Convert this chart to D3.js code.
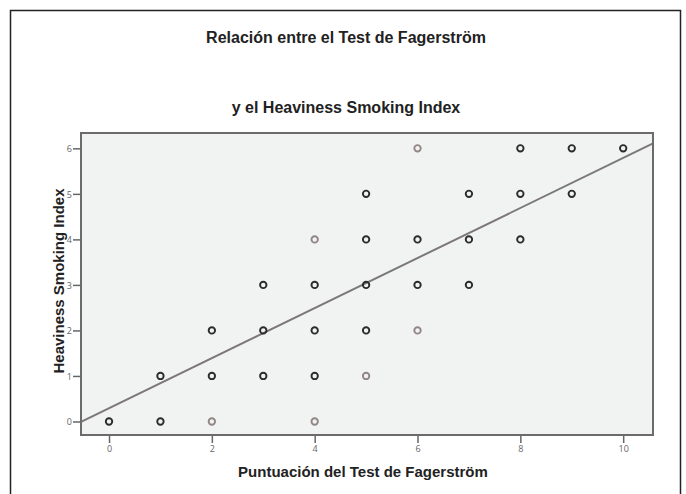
<!DOCTYPE html>
<html>
<head>
<meta charset="utf-8">
<script src="https://cdn.jsdelivr.net/npm/d3@7"></script>
<style>
    body { margin: 0; background: #fff; }
    text { font-family: "Liberation Sans", Arial, sans-serif; }
</style>
</head>
<body>
<svg id="chart" width="686" height="494"></svg>
<script>
// data
const titleLines = ["Relación entre el Test de Fagerström", "y el Heaviness Smoking Index"];
const xLabel = "Puntuación del Test de Fagerström";
const yLabel = "Heaviness Smoking Index";
const xTicks = [0, 2, 4, 6, 8, 10];
const yTicks = [0, 1, 2, 3, 4, 5, 6];
const pointX = [0, 1, 1, 2, 2, 2, 3, 3, 3, 4, 4, 4, 4, 4, 5, 5, 5, 5, 5, 6, 6, 6, 6, 7, 7, 7, 8, 8, 8, 9, 9, 10];
const pointY = [0, 0, 1, 0, 1, 2, 1, 2, 3, 0, 1, 2, 3, 4, 1, 2, 3, 4, 5, 2, 3, 4, 6, 3, 4, 5, 4, 5, 6, 5, 6, 6];
// 1 = dark (many cases), 0 = light (few cases)
const pointTone = [1, 1, 1, 0, 1, 1, 1, 1, 1, 0, 1, 1, 1, 0, 0, 1, 1, 1, 1, 0, 1, 1, 0, 1, 1, 1, 1, 1, 1, 1, 1, 1];
const fitIntercept = 0.29;
const fitSlope = 0.55;

const svg = d3.select("#chart");
const plot = { left: 81, right: 653, top: 133, bottom: 435 };

// outer frame
svg.append("rect")
    .attr("x", 10.5).attr("y", 10.5)
    .attr("width", 670).attr("height", 500)
    .attr("fill", "none")
    .attr("stroke", "#222")
    .attr("stroke-width", 1.5);

svg.selectAll(".title").data(titleLines).enter()
    .append("text")
    .attr("class", "title")
    .attr("x", 346)
    .attr("y", function(d, i) { return i == 0 ? 43 : 113; })
    .attr("text-anchor", "middle")
    .style("font-size", "16px")
    .style("font-weight", "bold")
    .attr("fill", "#222")
    .text(function(d) { return d; });

const x = d3.scaleLinear().domain([-0.545, 10.58]).range([plot.left, plot.right]);
const y = d3.scaleLinear().domain([-0.297, 6.337]).range([plot.bottom, plot.top]);

svg.append("rect")
    .attr("x", plot.left).attr("y", plot.top)
    .attr("width", plot.right - plot.left).attr("height", plot.bottom - plot.top)
    .attr("fill", "#f1f2f2");

// axes
const xAxis = d3.axisBottom(x).tickValues(xTicks).tickFormat(d3.format("d")).tickSize(8).tickSizeOuter(0);
const yAxis = d3.axisLeft(y).tickValues(yTicks).tickFormat(d3.format("d")).tickSize(8).tickSizeOuter(0);

const gx = svg.append("g")
    .attr("class", "bottomAxis")
    .attr("transform", "translate(0, " + plot.bottom + ")")
    .call(xAxis);
const gy = svg.append("g")
    .attr("class", "leftAxis")
    .attr("transform", "translate(" + plot.left + ", 0)")
    .call(yAxis);

[gx, gy].forEach(function(g) {
    g.select(".domain").remove();
    g.selectAll(".tick line").attr("stroke", "#666").attr("stroke-width", 1.5);
    g.selectAll(".tick text")
        .attr("fill", "#666")
        .style("font-size", "9px")
        .style("font-family", "'Open Sans', sans-serif");
});
gx.selectAll(".tick text").attr("dy", "0.5em").attr("y", 12);
gy.selectAll(".tick text").attr("x", -9).attr("dy", "0.35em");

// regression line
const lineX = x.domain();
svg.append("line")
    .attr("x1", x(lineX[0])).attr("y1", y(fitIntercept + fitSlope * lineX[0]))
    .attr("x2", x(lineX[1])).attr("y2", y(fitIntercept + fitSlope * lineX[1]))
    .attr("stroke", "#7d7878")
    .attr("stroke-width", 2);

// points
svg.selectAll(".pt").data(pointX).enter()
    .append("circle")
    .attr("class", "pt")
    .attr("cx", function(d) { return x(d); })
    .attr("cy", function(d, i) { return y(pointY[i]); })
    .attr("r", 3.2)
    .attr("fill", "none")
    .attr("stroke", function(d, i) { return pointTone[i] ? "#2b2b2b" : "#928585"; })
    .attr("stroke-width", 1.9);

// plot border
svg.append("rect")
    .attr("x", plot.left).attr("y", plot.top)
    .attr("width", plot.right - plot.left).attr("height", plot.bottom - plot.top)
    .attr("fill", "none")
    .attr("stroke", "#6b6b6b")
    .attr("stroke-width", 2);

svg.append("text")
    .attr("x", 363)
    .attr("y", 477)
    .attr("text-anchor", "middle")
    .style("font-size", "15px")
    .style("font-weight", "bold")
    .attr("fill", "#222")
    .text(xLabel);

svg.append("text")
    .attr("transform", "translate(64, 281) rotate(-90)")
    .attr("text-anchor", "middle")
    .style("font-size", "15px")
    .style("font-weight", "bold")
    .attr("fill", "#222")
    .text(yLabel);
</script>
</body>
</html>
